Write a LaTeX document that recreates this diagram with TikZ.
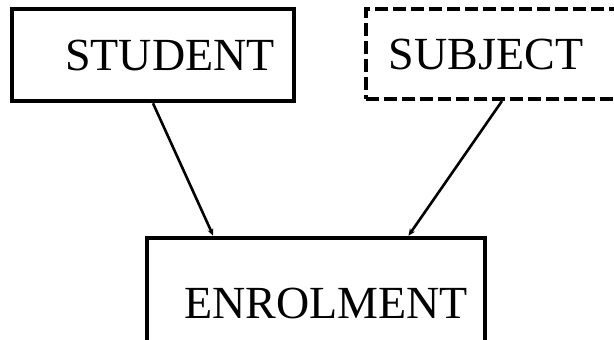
\documentclass[tikz,border=0pt]{standalone}
\usepackage{fontspec}
\setmainfont{Liberation Serif}
\usetikzlibrary{arrows.meta, calc}
\tikzstyle{entity} = [rectangle, draw=black, line width=4.5pt, fill=white, text centered, inner sep=0pt, font=\fontsize{46}{50}\selectfont]
\tikzstyle{weakentity} = [entity, line width=4pt, dash pattern=on 13pt off 5pt]
\tikzstyle{arrow} = [line width=2.6pt, -{Stealth[length=7pt, width=6pt]}]

\begin{document}
\begin{tikzpicture}[x=1pt, y=-1pt]
\useasboundingbox (0,0) rectangle (614,340);
\clip (0,0) rectangle (614,340);

\node (student) [entity, minimum width=282pt, minimum height=92pt] at (153,55) {\hspace*{34pt}STUDENT};
\node (subject) [weakentity, minimum width=272pt, minimum height=90pt] at (502,54) {SUBJECT\hspace*{32pt}};
\node (enrolment) [entity, minimum width=338pt, minimum height=130pt] at (316,303) {\hspace*{20pt}ENROLMENT};

\draw [arrow] (student.south) -- ($(enrolment.north west)!0.2!(enrolment.north east)$);
\draw [arrow] (subject.south) -- ($(enrolment.north west)!0.77!(enrolment.north east)$);

\end{tikzpicture}
\end{document}
